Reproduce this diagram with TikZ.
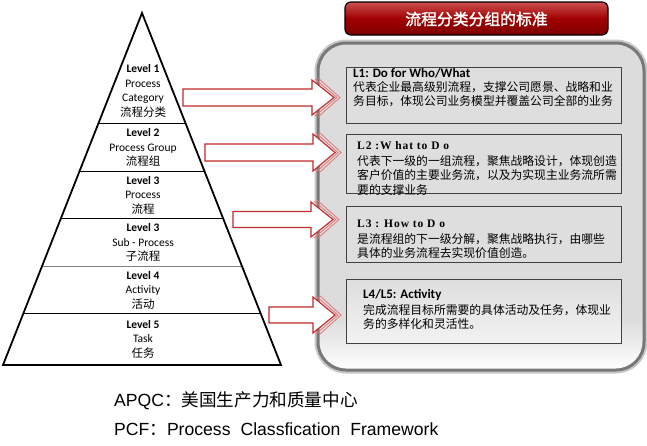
\documentclass[tikz,border=0pt]{standalone}
\usepackage{fontspec}
\setmainfont{Carlito}
\newfontfamily\cjk{Noto Sans CJK SC}
\newfontfamily\cjkbold{Noto Sans CJK SC}[FakeBold=2]
\newfontfamily\arialf{Liberation Sans}
\newfontfamily\serifsp{Liberation Serif}[LetterSpace=8]
\usetikzlibrary{calc}
\definecolor{arrred}{RGB}{196,40,40}
\definecolor{arrecho}{RGB}{225,120,120}
\definecolor{panelgray}{RGB}{220,220,220}
\definecolor{panelline}{RGB}{120,120,120}
\definecolor{panelhalo}{RGB}{200,200,200}
\definecolor{boxgray}{RGB}{222,222,222}
\definecolor{boxline}{RGB}{64,64,64}
\definecolor{titletop}{RGB}{205,80,80}
\definecolor{titlemid}{RGB}{160,0,0}
\definecolor{titlebot}{RGB}{125,0,0}
\newcommand\blockarrow[5]{% x0, tip, yc, body half, head half
  \draw[arrowecho] (#2-16,#3-#5-2) -- (#2+6,#3) -- (#2-16,#3+#5+2);
  \draw[arrowecho] (#2-19,#3-#5-1) -- (#2+3,#3) -- (#2-19,#3+#5+1);
  \draw[arrowbody] (#1,#3-#4) -- (#2-22,#3-#4) -- (#2-22,#3-#5) -- (#2,#3)
    -- (#2-22,#3+#5) -- (#2-22,#3+#4) -- (#1,#3+#4) -- cycle;
}
\tikzset{
  lvl/.style={align=center, font=\fontsize{11.5}{14.5}\selectfont, inner sep=0pt},
  divider/.style={line width=0.9pt},
  arrowbody/.style={draw=arrred, fill=white, line width=1.1pt, line join=miter},
  arrowecho/.style={draw=arrecho, line width=0.8pt},
  stdbox/.style={draw=boxline, line width=0.9pt, fill=boxgray},
  boxhead/.style={anchor=west, inner sep=0pt, font=\fontsize{13}{15}\selectfont\bfseries},
  serifhead/.style={anchor=west, inner sep=0pt, font=\serifsp\fontsize{11.5}{14}\selectfont\bfseries},
  boxbody/.style={anchor=north west, inner sep=0pt, align=left, font=\cjk\fontsize{11.8}{14.6}\selectfont},
  foot/.style={anchor=west, inner sep=0pt, font=\arialf\fontsize{17.6}{20}\selectfont},
}
\begin{document}
\begin{tikzpicture}[x=1pt,y=-1pt]
\useasboundingbox (0,0) rectangle (647,445);
\fill[white] (0,0) rectangle (647,445);

% ---------- right panel ----------
\path[draw=panelhalo, line width=7pt, rounded corners=28pt] (318,43) rectangle (644,370);
\fill[panelgray, rounded corners=28pt] (318,43) rectangle (644,370);
\begin{scope}
  \clip[rounded corners=28pt] (318,43) rectangle (644,370);
  \shade[top color=panelgray, bottom color=white] (318,318) rectangle (644,371);
\end{scope}
\draw[panelline, line width=3pt, rounded corners=28pt] (318,43) rectangle (644,370);

% ---------- title ----------
\shade[top color=titletop, bottom color=titlebot, middle color=titlemid, rounded corners=6pt]
  (345,2) rectangle (608,35);
\draw[black, line width=1.2pt, rounded corners=6pt] (345,2) rectangle (608,35);
\node[text=white, font=\cjkbold\fontsize{15.8}{18}\selectfont, inner sep=0pt] (title) at (476.5,19) {流程分类分组的标准};

% ---------- inner boxes ----------
\draw[stdbox] (346,67) rectangle (621,123);
\node[boxhead] (h1) at (353,73.5) {L1: Do for Who/What};
\node[boxbody] (b1) at (353,81) {代表企业最高级别流程，支撑公司愿景、战略和业\\务目标，体现公司业务模型并覆盖公司全部的业务};

\draw[stdbox] (346,134) rectangle (621,193);
\node[serifhead] (h2) at (357,146) {L2 :W hat to D o};
\node[boxbody] (b2) at (357,155) {代表下一级的一组流程，聚焦战略设计，体现创造\\客户价值的主要业务流，以及为实现主业务流所需\\要的支撑业务};

\draw[stdbox] (346,206) rectangle (621,262);
\node[serifhead] (h3) at (357,224) {L3 : How to D o};
\node[boxbody] (b3) at (357,233) {是流程组的下一级分解，聚焦战略执行，由哪些\\具体的业务流程去实现价值创造。};

\shade[top color=boxgray, bottom color={rgb,255:red,242;green,242;blue,242}] (346,279) rectangle (621,343);
\draw[boxline, line width=0.9pt] (346,279) rectangle (621,343);
\node[boxhead] (h4) at (363,294.5) {L4/L5: Activity};
\node[boxbody] (b4) at (363,304) {完成流程目标所需要的具体活动及任务，体现业\\务的多样化和灵活性。};

% ---------- pyramid ----------
\coordinate (apex) at (142,13);
\coordinate (bl) at (3,365);
\coordinate (br) at (281,365);
\draw[divider] ($(apex)!0.3125!(bl)$) -- ($(apex)!0.3125!(br)$);
\draw[divider] ($(apex)!0.4489!(bl)$) -- ($(apex)!0.4489!(br)$);
\draw[divider] ($(apex)!0.5824!(bl)$) -- ($(apex)!0.5824!(br)$);
\draw[divider, gray] ($(apex)!0.7188!(bl)$) -- ($(apex)!0.7188!(br)$);
\draw[divider] ($(apex)!0.8523!(bl)$) -- ($(apex)!0.8523!(br)$);
\draw[line width=1.8pt, line join=miter] (apex) -- (bl) -- (br) -- cycle;

\node[lvl] (l1) at (143,91) {\textbf{Level 1}\\Process\\Category\\{\cjk 流程分类}};
\node[lvl] (l2) at (143,147.5) {\textbf{Level 2}\\Process Group\\{\cjk 流程组}};
\node[lvl] (l3) at (143,195) {\textbf{Level 3}\\Process\\{\cjk 流程}};
\node[lvl] (l3b) at (143,242.5) {\textbf{Level 3}\\Sub - Process\\{\cjk 子流程}};
\node[lvl] (l4) at (143,290) {\textbf{Level 4}\\Activity\\{\cjk 活动}};
\node[lvl] (l5) at (143,339) {\textbf{Level 5}\\Task\\{\cjk 任务}};

% ---------- arrows ----------
\blockarrow{183}{334}{97.5}{8.5}{17.5}
\blockarrow{205}{335}{152.5}{8.5}{18.5}
\blockarrow{233}{333}{219.5}{8}{17.5}
\blockarrow{269}{335}{315}{8}{18}

% ---------- footer ----------
\node[foot] (apqc) at (114,400.5) {APQC{\cjk ：美国生产力和质量中心}};
\node[foot] (pcf) at (114,429) {PCF{\cjk ：}Process\hspace{10pt}Classfication\hspace{10pt}Framework};
\end{tikzpicture}
\end{document}
